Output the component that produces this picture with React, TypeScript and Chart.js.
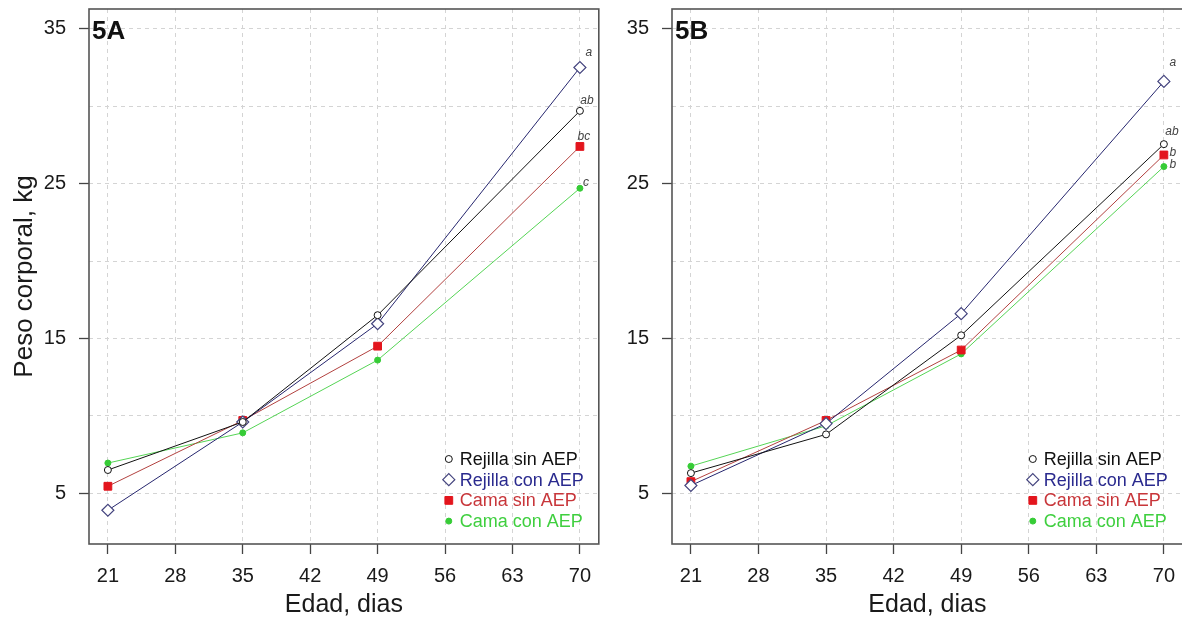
import React, { useEffect, useRef } from 'react';
import { Chart, registerables } from 'chart.js';
import { drawPoint } from 'chart.js/helpers';

Chart.register(...registerables);

// ---------- data ----------
const days = [21, 35, 49, 70];
const xTicks = [21, 28, 35, 42, 49, 56, 63, 70];
const yGrid = [5, 10, 15, 20, 25, 30, 35];
const yLabeled = [5, 15, 25, 35];
const seriesNames = ['Rejilla sin AEP', 'Rejilla con AEP', 'Cama sin AEP', 'Cama con AEP'];

const rejillaSinA = [6.5, 9.6, 16.5, 29.7];
const rejillaConA = [3.9, 9.6, 15.95, 32.5];
const camaSinA = [5.45, 9.7, 14.5, 27.4];
const camaConA = [6.95, 8.9, 13.6, 24.7];
const lettersA = ['ab', 'a', 'bc', 'c'];

const rejillaSinB = [6.3, 8.8, 15.2, 27.55];
const rejillaConB = [5.5, 9.5, 16.6, 31.6];
const camaSinB = [5.75, 9.7, 14.25, 26.85];
const camaConB = [6.75, 9.35, 14.0, 26.1];
const lettersB = ['ab', 'a', 'b', 'b'];

// ---------- styles ----------
const FONT = 'Liberation Sans, Arial, Helvetica, sans-serif';
const styles = [
  { line: '#111111', point: 'circle', radius: 3.5, bg: '#ffffff', border: '#111111', bw: 1, text: '#111111' },
  { line: '#26266e', point: 'rectRot', radius: 6, bg: '#ffffff', border: '#45457f', bw: 1.2, text: '#2a2a8e' },
  { line: '#b2413f', point: 'rect', radius: 5.5, bg: '#e3151d', border: '#e3151d', bw: 1, text: '#c8363a' },
  { line: '#55d455', point: 'circle', radius: 3, bg: '#36cc36', border: '#36cc36', bw: 1, text: '#3fcf3f' },
];
const letterOffsetsA = [[7, -10], [9, -15], [4, -10], [6, -6]];
const letterOffsetsB = [[8, -12], [9, -19], [9, -2], [9, -2]];

const decorPlugin = {
  id: 'decor',
  afterDatasetsDraw(chart: any, _args: any, opts: any) {
    const { ctx, chartArea: a } = chart;
    ctx.save();
    // significance letters near last points
    ctx.font = `italic 12px ${FONT}`;
    ctx.fillStyle = '#444';
    ctx.textAlign = 'center';
    ctx.textBaseline = 'middle';
    opts.letters.forEach((t: string, i: number) => {
      const meta = chart.getDatasetMeta(i);
      const pt = meta.data[meta.data.length - 1];
      const [dx, dy] = opts.offsets[i];
      ctx.fillText(t, pt.x + dx, pt.y + dy);
    });
    // legend (bottom-right inside plot)
    chart.data.datasets.forEach((ds: any, i: number) => {
      const s = styles[i];
      const y = a.bottom - 85 + i * 20.7;
      const sx = a.right - 150;
      ctx.fillStyle = s.bg;
      ctx.strokeStyle = s.border;
      ctx.lineWidth = s.bw;
      drawPoint(ctx, { pointStyle: s.point, radius: s.radius, borderWidth: s.bw, rotation: 0 } as any, sx, y);
      ctx.font = `18px ${FONT}`;
      ctx.fillStyle = s.text;
      ctx.textAlign = 'left';
      ctx.textBaseline = 'middle';
      ctx.fillText(ds.label, a.right - 139, y + 1);
    });
    // panel label
    ctx.font = `bold 26px ${FONT}`;
    ctx.fillStyle = '#111';
    ctx.textAlign = 'left';
    ctx.textBaseline = 'alphabetic';
    ctx.fillText(opts.panel, a.left + 3, a.top + 30);
    // box
    ctx.strokeStyle = '#555';
    ctx.lineWidth = 1.6;
    ctx.strokeRect(a.left, a.top, a.right - a.left, a.bottom - a.top);
    ctx.restore();
  },
};

function makeConfig(series: number[][], letters: string[], offsets: number[][], panel: string, showYTitle: boolean, yAxisWidth: number, padRight: number): any {
  return {
    type: 'line',
    data: {
      datasets: series.map((vals, i) => ({
        label: seriesNames[i],
        data: days.map((d, j) => ({ x: d, y: vals[j] })),
        borderColor: styles[i].line,
        borderWidth: 1,
        backgroundColor: styles[i].bg,
        pointStyle: styles[i].point,
        pointRadius: styles[i].radius,
        pointBackgroundColor: styles[i].bg,
        pointBorderColor: styles[i].border,
        pointBorderWidth: styles[i].bw,
        fill: false,
        tension: 0,
      })),
    },
    options: {
      animation: false,
      responsive: false,
      events: [],
      layout: { padding: { top: 9, left: 0, right: padRight, bottom: 0 } },
      plugins: {
        legend: { display: false },
        tooltip: { enabled: false },
        decor: { letters, offsets, panel },
      },
      scales: {
        x: {
          type: 'linear',
          min: 19.04,
          max: 71.96,
          afterBuildTicks: (s: any) => { s.ticks = xTicks.map((v) => ({ value: v })); },
          afterFit: (s: any) => { s.height = 80; s.paddingLeft = 0; s.paddingRight = 0; },
          ticks: { font: { family: FONT, size: 20 }, color: '#1a1a1a', padding: 10, maxRotation: 0, autoSkip: false, callback: (v: any) => String(v) },
          grid: { color: '#d4d4d4', lineWidth: 1, tickLength: 10, tickColor: '#444', tickWidth: 1.3, tickBorderDash: [] },
          border: { display: false, dash: [4, 4] },
          title: { display: true, text: 'Edad, dias', font: { family: FONT, size: 25 }, color: '#1a1a1a', padding: { top: 0, bottom: 4 } },
        },
        y: {
          type: 'linear',
          min: 1.72,
          max: 36.28,
          afterBuildTicks: (s: any) => { s.ticks = yGrid.map((v) => ({ value: v })); },
          afterFit: (s: any) => { s.width = yAxisWidth; s.paddingTop = 0; s.paddingBottom = 0; },
          ticks: { font: { family: FONT, size: 20 }, color: '#1a1a1a', padding: 13, autoSkip: false, callback: (v: any) => (yLabeled.includes(v) ? String(v) : '') },
          grid: {
            color: '#d4d4d4', lineWidth: 1, tickLength: 10, tickWidth: 1.3, tickBorderDash: [],
            tickColor: (c: any) => (c.tick && yLabeled.includes(c.tick.value) ? '#444' : 'rgba(0,0,0,0)'),
          },
          border: { display: false, dash: [4, 4] },
          title: { display: showYTitle, text: 'Peso corporal, kg', font: { family: FONT, size: 26 }, color: '#1a1a1a', padding: { top: 9, bottom: 0 } },
        },
      },
    },
    plugins: [decorPlugin],
  };
}

function Panel(props: { left: number; width: number; make: () => any }) {
  const ref = useRef<HTMLCanvasElement>(null);
  useEffect(() => {
    const chart = new Chart(ref.current as HTMLCanvasElement, props.make());
    return () => chart.destroy();
  }, []);
  return (
    <canvas
      ref={ref}
      width={props.width}
      height={624}
      style={{ position: 'absolute', left: props.left, top: 0, width: props.width, height: 624 }}
    />
  );
}

export default function App() {
  return (
    <div style={{ position: 'absolute', left: 0, top: 0, width: 1182, height: 624, overflow: 'hidden', background: '#ffffff' }}>
      <Panel
        left={0}
        width={606}
        make={() => makeConfig([rejillaSinA, rejillaConA, camaSinA, camaConA], lettersA, letterOffsetsA, '5A', true, 89, 5)}
      />
      <Panel
        left={600}
        width={590}
        make={() => makeConfig([rejillaSinB, rejillaConB, camaSinB, camaConB], lettersB, letterOffsetsB, '5B', false, 72, 6)}
      />
    </div>
  );
}
